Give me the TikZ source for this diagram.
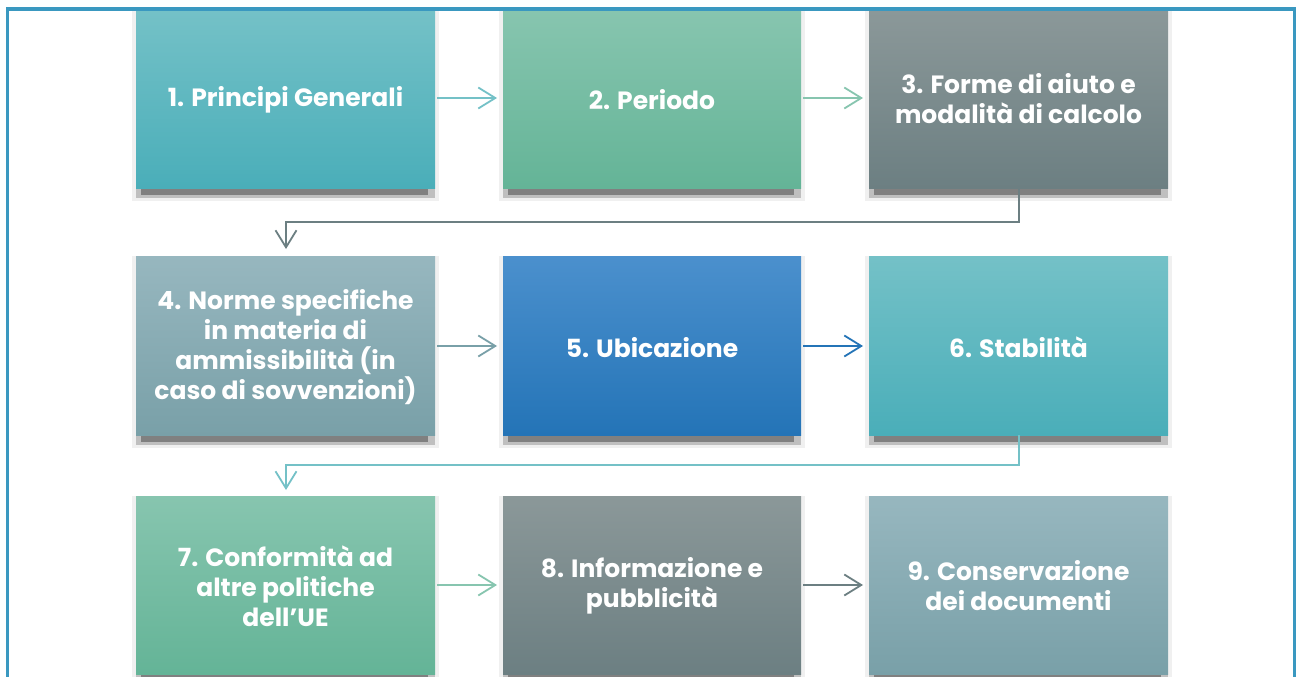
\documentclass[tikz,border=0pt]{standalone}
\usepackage{fontspec}
\setmainfont{Poppins}
\usetikzlibrary{arrows.meta}
\definecolor{frameblue}{HTML}{3A98C0}
\definecolor{tealT}{HTML}{74C1C7}\definecolor{tealB}{HTML}{4AAEB9}
\definecolor{greenT}{HTML}{87C5AF}\definecolor{greenB}{HTML}{64B497}
\definecolor{greyT}{HTML}{8B9899}\definecolor{greyB}{HTML}{6C7F82}
\definecolor{bgT}{HTML}{97B7BF}\definecolor{bgB}{HTML}{79A0A8}
\definecolor{blueT}{HTML}{4B90CD}\definecolor{blueB}{HTML}{2474B7}
\tikzset{
  boxtxt/.style={text=white, font=\fontsize{25}{30}\selectfont\bfseries, align=center, inner sep=0pt},
  conn/.style={line width=2pt, -{Straight Barb[length=17pt,width=21pt,line width=1.8pt]}},
}
\newcommand{\mybox}[7]{% name, x1, y1, x2, y2, top color, bottom color
  \fill[black!6] (#2-4,#3) rectangle (#4+4,#5+13);
  \fill[black!25] (#2,#5) rectangle (#4,#5+10);
  \fill[black!50] (#2+5,#5) rectangle (#4-7,#5+7);
  \shade[top color=#6, bottom color=#7] (#2,#3) rectangle (#4,#5);
  \coordinate (#1nw) at (#2,#3);
  \coordinate (#1se) at (#4,#5);
  \coordinate (#1) at ({(#2+#4)/2},{(#3+#5)/2});
}
\begin{document}
\begin{tikzpicture}[x=1pt,y=-1pt]
\useasboundingbox (0,0) rectangle (1301,677);
\fill[white] (0,0) rectangle (1301,677);
\begin{scope}
\clip (9,11) rectangle (1294,677);
% row 1
\mybox{b1}{136}{11}{435}{188}{tealT}{tealB}
\mybox{b2}{503}{11}{801}{188}{greenT}{greenB}
\mybox{b3}{869}{11}{1168}{188}{greyT}{greyB}
% row 2
\mybox{b4}{136}{256}{435}{435}{bgT}{bgB}
\mybox{b5}{503}{256}{801}{435}{blueT}{blueB}
\mybox{b6}{869}{256}{1168}{435}{tealT}{tealB}
% row 3
\mybox{b7}{136}{496}{435}{674}{greenT}{greenB}
\mybox{b8}{503}{496}{801}{674}{greyT}{greyB}
\mybox{b9}{869}{496}{1168}{674}{bgT}{bgB}
\end{scope}
\node[boxtxt] (t1) at (285.5,99.5) {1. Principi Generali};
\node[boxtxt] (t2) at (652,99.5) {2. Periodo};
\node[boxtxt] (t3) at (1018.5,99) {3. Forme di aiuto e\\modalità di calcolo};
\node[boxtxt] (t4) at (285.5,347) {4. Norme specifiche\\in materia di\\ammissibilità (in\\caso di sovvenzioni)};
\node[boxtxt] (t5) at (652,347.5) {5. Ubicazione};
\node[boxtxt] (t6) at (1018.5,347.5) {6. Stabilità};
\node[boxtxt] (t7) at (285.5,586) {7. Conformità ad\\altre politiche\\dell’UE};
\node[boxtxt] (t8) at (652,586) {8. Informazione e\\pubblicità};
\node[boxtxt] (t9) at (1018.5,586) {9. Conservazione\\dei documenti};
% coordinates for connectors
\coordinate (a1s) at (437,98);  \coordinate (a1e) at (497,98);
\coordinate (a2s) at (803,98);  \coordinate (a2e) at (863,98);
\coordinate (a4s) at (437,346); \coordinate (a4e) at (497,346);
\coordinate (a5s) at (803,346); \coordinate (a5e) at (863,346);
\coordinate (a7s) at (437,585); \coordinate (a7e) at (497,585);
\coordinate (a8s) at (803,585); \coordinate (a8e) at (863,585);
\coordinate (c3s) at (1018.5,188); \coordinate (c3e) at (286,249);
\coordinate (c6s) at (1018.5,435); \coordinate (c6e) at (286,490);
\draw[conn, color=tealT] (a1s) -- (a1e);
\draw[conn, color=greenT] (a2s) -- (a2e);
\draw[conn, color=bgB] (a4s) -- (a4e);
\draw[conn, color=blueB] (a5s) -- (a5e);
\draw[conn, color=greenT] (a7s) -- (a7e);
\draw[conn, color=greyB] (a8s) -- (a8e);
\draw[conn, color=greyB] (c3s) -- (1018.5,222) -- (286,222) -- (c3e);
\draw[conn, color=tealT] (c6s) -- (1018.5,465) -- (286,465) -- (c6e);
% frame
\draw[frameblue, line width=3.5pt] (7.5,9) -- (1294.5,9) (7.5,7.3) -- (7.5,690) (1294.5,7.3) -- (1294.5,690);
\end{tikzpicture}
\end{document}
